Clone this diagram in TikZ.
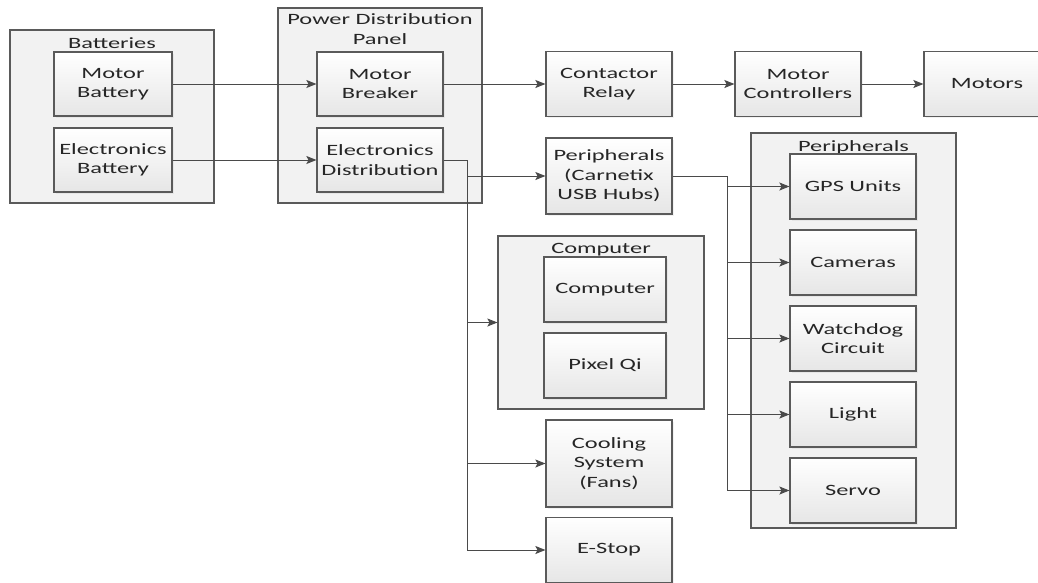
\documentclass[tikz,border=0pt]{standalone}
\usepackage{fontspec}
\setmainfont{Carlito}[FakeStretch=1.55]
\usepackage{xcolor}
\usetikzlibrary{
    arrows.meta,
    shapes,
    shadows,
    calc
}
\definecolor{edgegray}{HTML}{5A5A5A}
\definecolor{linegray}{HTML}{4A4A4A}
\definecolor{groupfill}{HTML}{F2F2F2}
\definecolor{blockbottom}{HTML}{E6E6E6}

\begin{document}
\begin{tikzpicture}[x=0.75pt, y=-0.75pt, >={Stealth[length=7.5pt,width=6pt,inset=1.5pt]},
    block/.style={rectangle, draw=edgegray, line width=0.9pt, top color=white, bottom color=blockbottom,
        minimum width=94.5pt, minimum height=48.75pt, inner sep=1pt, align=center, text=black!85,
        font=\fontsize{11.8}{14.6}\selectfont,
        drop shadow={opacity=0.1, shadow xshift=1.2pt, shadow yshift=-1.2pt}},
    group/.style={rectangle, draw=edgegray, line width=0.9pt, fill=groupfill},
    grouplabel/.style={anchor=north, inner sep=3.5pt, yshift=-2.5pt, align=center, text=black!85,
        font=\fontsize{11.8}{15}\selectfont},
    wire/.style={draw=linegray, line width=0.75pt}]
    \clip (0,0) rectangle (1038,582);

    % containers
    \node[group, minimum width=153pt, minimum height=129.75pt, label={[grouplabel]north:Batteries}] (batteries) at (112,116.5) {};
    \node[group, minimum width=153pt, minimum height=146.25pt, label={[grouplabel, yshift=1.5pt]north:Power Distribution\\Panel}] (pdp) at (380,105.5) {};
    \node[group, minimum width=154.5pt, minimum height=129.75pt, label={[grouplabel]north:Computer}] (computer) at (601,322.5) {};
    \node[group, minimum width=153.75pt, minimum height=296.25pt, label={[grouplabel]north:Peripherals}] (periph) at (853.5,330.5) {};

    % blocks
    \node[block, minimum width=88.5pt, minimum height=48pt] (mbat) at (113,84) {Motor\\Battery};
    \node[block, minimum width=88.5pt, minimum height=48pt] (ebat) at (113,160) {Electronics\\Battery};
    \node[block, minimum height=48pt] (mbrk) at (380,84) {Motor\\Breaker};
    \node[block, minimum height=48pt] (edist) at (380,160) {Electronics\\Distribution};
    \node[block] (relay) at (609,84) {Contactor\\Relay};
    \node[block] (ctrl) at (798,84) {Motor\\Controllers};
    \node[block] (motors) at (987,84) {Motors};
    \node[block, minimum height=57pt] (hub) at (609,176) {Peripherals\\(Carnetix\\USB Hubs)};
    \node[block, minimum width=91.5pt] (pc) at (605,289.5) {Computer};
    \node[block, minimum width=91.5pt] (pixel) at (605,365.5) {Pixel Qi};
    \node[block, minimum height=65.25pt] (cooling) at (609,463.5) {Cooling\\System\\(Fans)};
    \node[block] (estop) at (609,550) {E-Stop};
    \node[block] (gps) at (853,186.5) {GPS Units};
    \node[block] (cameras) at (853,262.5) {Cameras};
    \node[block] (watchdog) at (853,338.5) {Watchdog\\Circuit};
    \node[block] (light) at (853,414.5) {Light};
    \node[block] (servo) at (853,490.5) {Servo};

    % motor chain
    \draw[wire,->] (mbat) -- (mbrk);
    \draw[wire,->] (ebat) -- (edist);
    \draw[wire,->] (mbrk) -- (relay);
    \draw[wire,->] (relay) -- (ctrl);
    \draw[wire,->] (ctrl) -- (motors);

    % electronics trunk
    \coordinate (etrunk) at (467,160);
    \draw[wire,->] (edist.east) -- (etrunk) |- (estop.west);
    \draw[wire,->] (etrunk |- hub.west) -- (hub.west);
    \draw[wire,->] (etrunk |- computer.west) -- (computer.west);
    \draw[wire,->] (etrunk |- cooling.west) -- (cooling.west);

    % peripherals trunk
    \coordinate (ptrunk) at (727,176);
    \draw[wire,->] (hub.east) -- (ptrunk) |- (servo.west);
    \foreach \n in {gps, cameras, watchdog, light}
        \draw[wire,->] (ptrunk |- \n.west) -- (\n.west);
\end{tikzpicture}
\end{document}
